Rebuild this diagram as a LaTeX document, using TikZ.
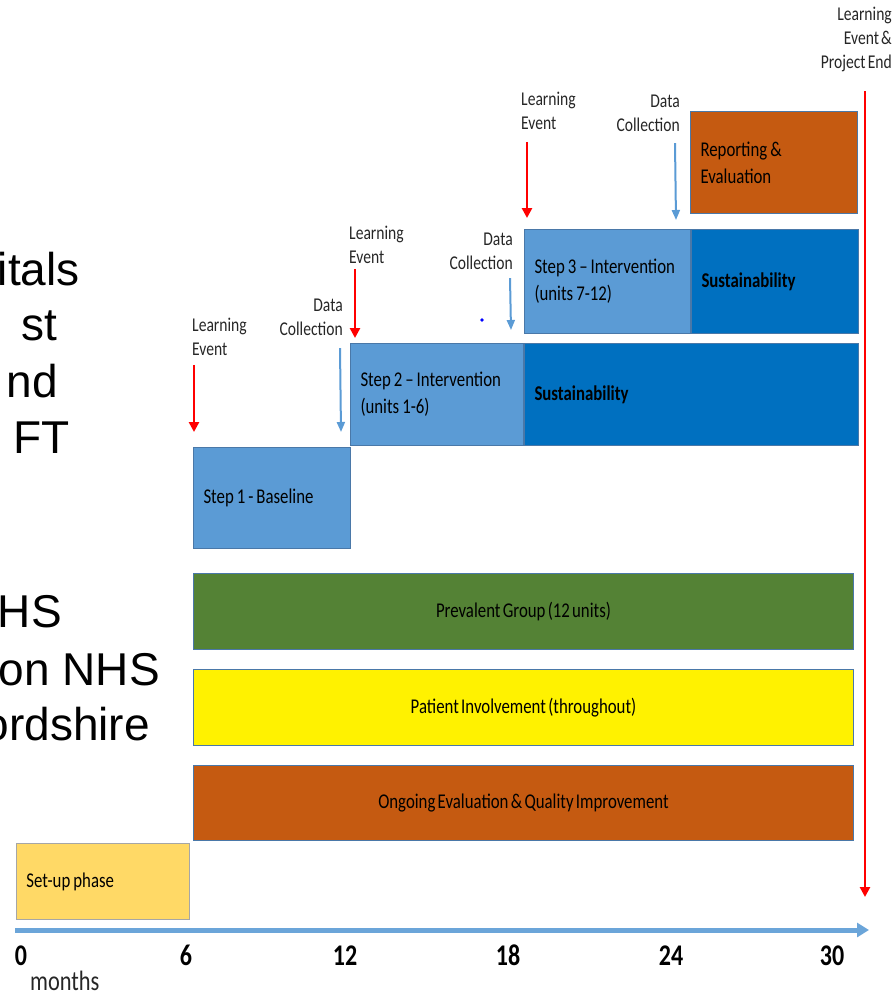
\documentclass[tikz,border=0pt]{standalone}
\usepackage{fontspec}
\setmainfont{Liberation Sans}
\newfontfamily\chartfont[FakeStretch=0.8,WordSpace=0.6]{Carlito}
\usetikzlibrary{arrows.meta,positioning}

\definecolor{stepblue}{HTML}{5B9BD5}
\definecolor{sustblue}{HTML}{0070C0}
\definecolor{rustorange}{HTML}{C55A11}
\definecolor{groupgreen}{HTML}{548235}
\definecolor{setupyellow}{HTML}{FFD966}
\definecolor{boxline}{HTML}{4A78A8}
\definecolor{labelgrey}{HTML}{262626}

\tikzset{
  partner/.style={anchor=base east, inner sep=0pt, font=\fontsize{46}{55}\selectfont},
  phase/.style={draw=boxline, line width=1pt, anchor=north west, inner xsep=10pt,
    inner ysep=0pt, align=flush left, text=black,
    execute at begin node={\spaceskip=3pt plus 1pt\relax},
    font=\chartfont\fontsize{21}{27}\selectfont},
  sustphase/.style={phase, font=\chartfont\bfseries\fontsize{21}{27}\selectfont},
  band/.style={draw=boxline, line width=1pt, anchor=north west, minimum width=660pt,
    minimum height=76pt, font=\chartfont\fontsize{21}{27}\selectfont},
  marker/.style={inner sep=0pt, text=labelgrey, font=\chartfont\fontsize{19.5}{24}\selectfont},
  learnarrow/.style={red, line width=2.8pt, -{Triangle[length=10pt,width=10pt]}},
  dataarrow/.style={stepblue, line width=2pt, -{Triangle[length=10pt,width=8pt]}},
  axisarrow/.style={stepblue!90!white, line width=5pt, -{Triangle[length=12pt,width=14pt]}},
  monthlbl/.style={anchor=base, inner sep=0pt, font=\chartfont\bfseries\fontsize{30}{30}\selectfont},
}

\begin{document}
\begin{tikzpicture}[x=1pt,y=-1pt]
  \useasboundingbox (0,0) rectangle (893,997);
  \begin{scope}
  \clip (0,0) rectangle (893,997);

  % partner list, cut at the left edge
  \node[partner] (p1) at (80,285) {itals};
  \node[partner] (p2) at (57,340) {st};
  \node[partner] (p3) at (58,397) {nd};
  \node[partner] (p4) at (70,453) {FT};
  \node[partner] (p5) at (62,627) {HS};
  \node[partner] (p6) at (160,685) {on NHS};
  \node[partner] (p7) at (150,740) {ordshire};

  % stepped phases
  \node[phase, fill=stepblue, minimum height=101pt, text width=137pt] (step1) at (193,447) {Step 1 - Baseline};
  \node[phase, fill=stepblue, minimum height=102pt, text width=153pt] (step2) at (350,343) {Step 2 – Intervention\\(units 1-6)};
  \node[sustphase, fill=sustblue, minimum height=102pt, text width=314pt, right=0pt of step2] (sust2) {Sustainability};
  \node[phase, fill=stepblue, minimum height=104pt, text width=146pt] (step3) at (524,229) {Step 3 – Intervention\\(units 7-12)};
  \node[sustphase, fill=sustblue, minimum height=104pt, text width=147pt, right=0pt of step3] (sust3) {Sustainability};
  \node[phase, fill=rustorange, minimum height=102pt, text width=147pt] (report) at (690,111) {Reporting \&\\Evaluation};

  % whole-project bands
  \node[band, fill=groupgreen] (prevalent) at (193,573) {Prevalent Group (12 units)};
  \node[band, fill=yellow] (patient) at (193,669) {Patient Involvement (throughout)};
  \node[band, fill=rustorange, minimum height=75pt] (ongoing) at (193,765) {Ongoing Evaluation \& Quality Improvement};
  \node[phase, draw=black!35, fill=setupyellow, minimum height=76pt, text width=153pt] (setup) at (16,843) {Set-up phase};

  % learning events and data collection
  \node[marker, anchor=north west, align=left] (le1) at (192,318) {Learning\\Event};
  \draw[learnarrow] ([shift={(2,9)}]le1.south west) -- ([shift={(1,-15)}]step1.north west);
  \node[marker, anchor=north east, align=right] (dc1) at (343,299) {Data\\Collection};
  \draw[dataarrow] ([shift={(-3,12)}]dc1.south east) -- ([shift={(-10,-15)}]step1.north east);
  \node[marker, anchor=north west, align=left] (le2) at (349,226) {Learning\\Event};
  \draw[learnarrow] ([shift={(6,5)}]le2.south west) -- ([shift={(5,-5)}]step2.north west);
  \node[marker, anchor=north east, align=right] (dc2) at (513,233) {Data\\Collection};
  \draw[dataarrow] ([shift={(-3,8)}]dc2.south east) -- ([shift={(-13,-13)}]step2.north east);
  \fill[blue] (482,320) circle (1.8);
  \node[marker, anchor=north west, align=left] (le3) at (521,92) {Learning\\Event};
  \draw[learnarrow] ([shift={(6,12)}]le3.south west) -- ([shift={(3,-11)}]step3.north west);
  \node[marker, anchor=north east, align=right] (dc3) at (680,95) {Data\\Collection};
  \draw[dataarrow] ([shift={(-5,11)}]dc3.south east) -- ([shift={(-15,-9)}]step3.north east);

  % project end
  \node[marker, anchor=north east, align=right] (endlbl) at (892,7) {Learning\\Event \&\\Project End};
  \coordinate (endtip) at (865,897);
  \draw[learnarrow] ([shift={(-27,19)}]endlbl.south east) -- (endtip);

  % time axis
  \coordinate (t0) at (15,930);
  \coordinate (t30) at (869,930);
  \draw[axisarrow] (t0) -- (t30);
  \foreach \m/\x in {0/21,6/186,12/345,18/508,24/671,30/832}
    \node[monthlbl] (m\m) at (\x,965) {\m};
  \node[anchor=base west, inner sep=0pt, text=labelgrey, font=\chartfont\fontsize{28}{28}\selectfont] (unit) at (30,990) {months};
  \end{scope}
\end{tikzpicture}
\end{document}
